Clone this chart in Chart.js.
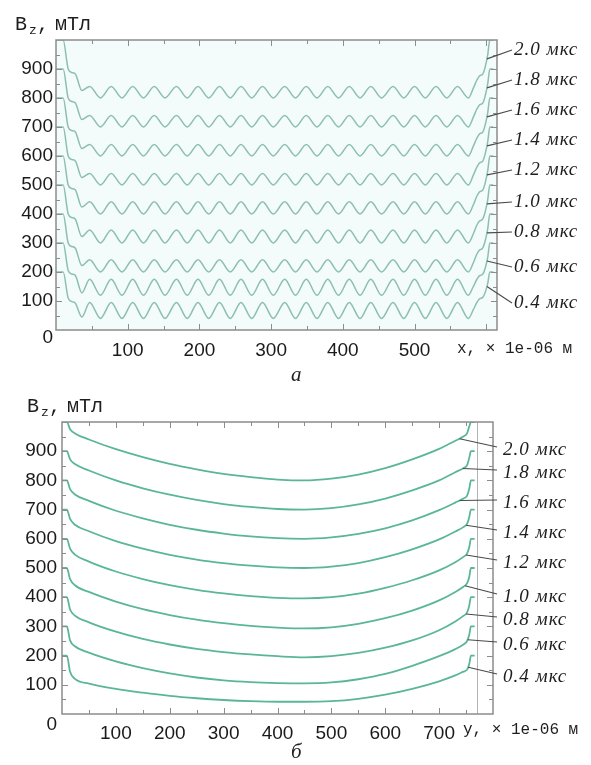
<!DOCTYPE html>
<html>
<head>
<meta charset="utf-8">
<script src="https://cdn.jsdelivr.net/npm/chart.js@4.4.0/dist/chart.umd.min.js"></script>
<style>
  html, body { margin: 0; padding: 0; background: #fff; }
  body { width: 591px; height: 765px; position: relative; overflow: hidden; }
  canvas { position: absolute; left: 0; }
  #chartX { top: 0; }
  #chartY { top: 380px; }
  .cap { position: absolute; font-family: 'Liberation Serif', serif; font-style: italic;
         font-size: 21px; line-height: 21px; color: #222; }
</style>
</head>
<body>
<canvas id="chartX" width="591" height="370"></canvas>
<canvas id="chartY" width="591" height="375"></canvas>
<div class="cap" style="left:291px; top:364px;">а</div>
<div class="cap" style="left:291px; top:741px;">б</div>
<script>
// Moments of time of the field snapshots, мкс (top to bottom)
const times = ['2.0', '1.8', '1.6', '1.4', '1.2', '1.0', '0.8', '0.6', '0.4'];

// Axis ticks
const yTickValues = [0, 100, 200, 300, 400, 500, 600, 700, 800, 900];
const xTickValuesA = [100, 200, 300, 400, 500];
const xTickValuesB = [100, 200, 300, 400, 500, 600, 700];

// (а) Bz along x, positions in 1e-06 м
const xPos = [0, 10, 17, 22, 27, 36,
  47, 62, 77, 92, 107, 122, 137, 152, 168, 183, 198, 213, 228, 243, 258, 273, 288, 303,
  319, 334, 349, 364, 379, 394, 409, 424, 439, 454, 470, 485, 500, 515, 530, 545, 560, 575,
  582, 587, 591, 595, 602, 605, 610];

// (а) Bz, мТл
const bzX20 = [1000, 1000, 900, 888, 883, 826,
  840, 800, 840, 800, 840, 800, 840, 800, 840, 800, 840, 800, 840, 800, 840, 800, 840, 800,
  840, 800, 840, 800, 840, 800, 840, 800, 840, 800, 840, 800, 840, 800, 840, 800, 840, 800,
  834, 862, 877, 882, 948, 1000, 1000];
const bzX18 = [900, 900, 800, 788, 783, 726,
  740, 700, 740, 700, 740, 700, 740, 700, 740, 700, 740, 700, 740, 700, 740, 700, 740, 700,
  740, 700, 740, 700, 740, 700, 740, 700, 740, 700, 740, 700, 740, 700, 740, 700, 740, 700,
  734, 762, 777, 782, 848, 900, 900];
const bzX16 = [800, 800, 700, 688, 683, 626,
  640, 600, 640, 600, 640, 600, 640, 600, 640, 600, 640, 600, 640, 600, 640, 600, 640, 600,
  640, 600, 640, 600, 640, 600, 640, 600, 640, 600, 640, 600, 640, 600, 640, 600, 640, 600,
  634, 662, 677, 682, 748, 800, 800];
const bzX14 = [700, 700, 600, 588, 583, 526,
  540, 500, 540, 500, 540, 500, 540, 500, 540, 500, 540, 500, 540, 500, 540, 500, 540, 500,
  540, 500, 540, 500, 540, 500, 540, 500, 540, 500, 540, 500, 540, 500, 540, 500, 540, 500,
  534, 562, 577, 582, 648, 700, 700];
const bzX12 = [600, 600, 500, 488, 483, 424,
  442, 400, 442, 400, 442, 400, 442, 400, 442, 400, 442, 400, 442, 400, 442, 400, 442, 400,
  442, 400, 442, 400, 442, 400, 442, 400, 442, 400, 442, 400, 442, 400, 442, 400, 442, 400,
  432, 462, 477, 482, 548, 600, 600];
const bzX10 = [500, 500, 400, 388, 382, 322,
  345, 300, 345, 300, 345, 300, 345, 300, 345, 300, 345, 300, 345, 300, 345, 300, 345, 300,
  345, 300, 345, 300, 345, 300, 345, 300, 345, 300, 345, 300, 345, 300, 345, 300, 345, 300,
  332, 362, 376, 382, 448, 500, 500];
const bzX08 = [400, 400, 300, 288, 282, 222,
  242, 200, 242, 200, 242, 200, 242, 200, 242, 200, 242, 200, 242, 200, 242, 200, 242, 200,
  242, 200, 242, 200, 242, 200, 242, 200, 242, 200, 242, 200, 242, 200, 242, 200, 242, 200,
  232, 262, 276, 282, 348, 400, 400];
const bzX06 = [300, 300, 205, 193, 188, 128,
  175, 120, 175, 120, 175, 120, 175, 120, 175, 120, 175, 120, 175, 120, 175, 120, 175, 120,
  175, 120, 175, 120, 175, 120, 175, 120, 175, 120, 175, 120, 175, 120, 175, 120, 175, 120,
  150, 175, 188, 192, 250, 300, 300];
const bzX04 = [200, 200, 110, 98, 92, 45,
  95, 40, 95, 40, 95, 40, 95, 40, 95, 40, 95, 40, 95, 40, 95, 40, 95, 40,
  95, 40, 95, 40, 95, 40, 95, 40, 95, 40, 95, 40, 95, 40, 95, 40, 95, 40,
  70, 95, 108, 112, 160, 200, 200];

// (б) Bz along y, positions in 1e-06 м
const yPos = [0, 9, 15, 24, 50, 100, 150, 200, 250, 300, 350, 400, 450, 500, 550, 600, 650, 700, 730, 745, 752, 756, 759, 766];

// (б) Bz, мТл
const bzY20 = [1000, 1000, 975, 961, 940, 907, 880, 857, 838, 822, 811, 803, 800, 806, 820, 842, 872, 908, 936, 950, 962, 985, 1000, 1000];
const bzY18 = [900, 900, 872, 856, 834, 800, 773, 751, 733, 719, 709, 702, 700, 705, 718, 738, 766, 800, 828, 842, 852, 878, 900, 900];
const bzY16 = [800, 800, 770, 752, 730, 696, 670, 648, 631, 618, 608, 602, 600, 605, 617, 636, 663, 698, 724, 738, 748, 772, 800, 800];
const bzY14 = [700, 700, 668, 648, 626, 592, 566, 545, 529, 517, 508, 502, 500, 505, 517, 537, 564, 598, 625, 640, 652, 675, 700, 700];
const bzY12 = [600, 600, 566, 546, 522, 488, 462, 441, 425, 413, 404, 398, 396, 400, 412, 432, 458, 492, 520, 538, 550, 572, 600, 600];
const bzY10 = [500, 500, 462, 441, 418, 385, 359, 339, 323, 311, 302, 296, 293, 297, 309, 328, 354, 389, 418, 436, 448, 470, 500, 500];
const bzY08 = [400, 400, 358, 337, 314, 282, 257, 238, 223, 212, 204, 198, 194, 198, 209, 227, 252, 287, 317, 336, 348, 372, 400, 400];
const bzY06 = [300, 300, 252, 232, 210, 180, 157, 139, 125, 115, 109, 106, 105, 108, 119, 137, 165, 198, 222, 238, 250, 272, 300, 300];
const bzY04 = [200, 200, 145, 120, 104, 86, 73, 62, 54, 48, 44, 42, 42, 44, 52, 66, 86, 112, 132, 145, 152, 172, 200, 200];

const seriesX = [bzX20, bzX18, bzX16, bzX14, bzX12, bzX10, bzX08, bzX06, bzX04];
const seriesY = [bzY20, bzY18, bzY16, bzY14, bzY12, bzY10, bzY08, bzY06, bzY04];

// Where each leader line meets its curve (positions along the axis, 1e-06 м)
const leaderAtA = [601, 601, 601, 601, 601, 601, 601, 601, 601];
const leaderAtB = [738, 744, 738, 750, 750, 748, 750, 753, 754];

function points(xs, ys) { return xs.map((x, i) => ({ x: x, y: ys[i] })); }

function linearAt(pts, x) {
  for (let i = 1; i < pts.length; i++) {
    if (pts[i].x >= x) {
      const p = pts[i - 1], q = pts[i];
      return p.y + (x - p.x) / (q.x - p.x) * (q.y - p.y);
    }
  }
  return pts[pts.length - 1].y;
}

// Plot background, boxed frame with inward ticks on all four sides
const framePlugin = {
  id: 'frame',
  beforeDatasetsDraw(chart, args, o) {
    if (!o.fill) return;
    const a = chart.chartArea, ctx = chart.ctx;
    ctx.save();
    ctx.fillStyle = o.fill;
    ctx.fillRect(a.left, a.top, a.right - a.left, a.bottom - a.top);
    ctx.restore();
  },
  afterDatasetsDraw(chart, args, o) {
    const a = chart.chartArea, ctx = chart.ctx;
    const xs = chart.scales.x, ys = chart.scales.y;
    ctx.save();
    ctx.strokeStyle = o.color;
    ctx.lineWidth = 1;
    const seg = (x1, y1, x2, y2) => { ctx.beginPath(); ctx.moveTo(x1, y1); ctx.lineTo(x2, y2); ctx.stroke(); };
    if (o.vline !== undefined) {
      ctx.save();
      ctx.strokeStyle = o.vlineColor;
      const px = Math.round(xs.getPixelForValue(o.vline)) + 0.5;
      seg(px, a.top, px, a.bottom);
      ctx.restore();
    }
    for (let v = o.step; v < xs.max; v += o.step) {
      const px = Math.round(xs.getPixelForValue(v)) + 0.5;
      const len = v % 100 === 0 ? o.major : o.minor;
      seg(px, a.bottom, px, a.bottom - len);
      seg(px, a.top, px, a.top + len);
    }
    for (let v = o.step; v < ys.max; v += o.step) {
      const py = Math.round(ys.getPixelForValue(v)) + 0.5;
      const len = v % 100 === 0 ? o.major : o.minor;
      seg(a.left, py, a.left + len, py);
      seg(a.right, py, a.right - len, py);
    }
    ctx.lineWidth = o.width;
    ctx.strokeRect(a.left, a.top, a.right - a.left, a.bottom - a.top);
    ctx.restore();
  }
};

// Curve captions with leader lines, axis names
const notesPlugin = {
  id: 'notes',
  afterDatasetsDraw(chart, args, o) {
    const ctx = chart.ctx;
    const xs = chart.scales.x, ys = chart.scales.y;
    ctx.save();
    // time captions
    chart.data.datasets.forEach((ds, i) => {
      const px = xs.getPixelForValue(o.leaderAt[i]);
      const el = chart.getDatasetMeta(i).dataset;
      let hit = el && el.interpolate ? el.interpolate({ x: px }, 'x') : null;
      const py = hit ? hit.y : ys.getPixelForValue(linearAt(ds.data, o.leaderAt[i]));
      const ly = o.labelY[i];
      ctx.strokeStyle = o.leaderColor;
      ctx.lineWidth = 1.1;
      ctx.beginPath();
      ctx.moveTo(px, py);
      ctx.lineTo(o.leaderEndX, ly + o.leaderDy);
      ctx.stroke();
      ctx.fillStyle = o.textColor;
      ctx.font = o.labelFont;
      ctx.letterSpacing = '1px';
      ctx.textAlign = 'left';
      ctx.textBaseline = 'middle';
      ctx.fillText(ds.label, o.labelX, ly);
    });
    ctx.letterSpacing = '0px';
    // quantity name of the vertical axis: B with subscript z
    ctx.fillStyle = o.textColor;
    ctx.textBaseline = 'alphabetic';
    ctx.font = "20px 'Liberation Mono'";
    ctx.fillText('B', o.yTitle[0], o.yTitle[1]);
    ctx.font = "13px 'Liberation Mono'";
    ctx.fillText('z', o.yTitle[0] + 14, o.yTitle[1] + 4);
    ctx.font = "20px 'Liberation Mono'";
    ctx.fillText(',', o.yTitle[0] + 22, o.yTitle[1]);
    ctx.fillText('мТл', o.yTitle[0] + 40, o.yTitle[1]);
    // quantity name of the horizontal axis
    ctx.font = "16px 'Liberation Mono'";
    ctx.textBaseline = 'middle';
    ctx.fillText(o.xTitle, o.xTitlePos[0], o.xTitlePos[1]);
    ctx.restore();
  }
};

function makeChart(canvasId, xs, ysList, color, lineWidth, cfg) {
  const datasets = ysList.map((ys, i) => ({
    label: times[i] + ' мкс',
    data: points(xs, ys),
    borderColor: color,
    borderWidth: lineWidth,
    pointRadius: 0,
    fill: false,
    cubicInterpolationMode: 'monotone'
  }));
  const tickFont = (zeroLh) => (c) => (c.tick && c.tick.value === 0)
    ? { family: "'Liberation Sans'", size: 19, lineHeight: zeroLh }
    : { family: "'Liberation Sans'", size: 19 };
  return new Chart(document.getElementById(canvasId), {
    type: 'line',
    data: { datasets: datasets },
    options: {
      responsive: false,
      animation: false,
      events: [],
      layout: { padding: cfg.padding },
      plugins: {
        legend: { display: false },
        tooltip: { enabled: false },
        frame: cfg.frame,
        notes: cfg.notes
      },
      scales: {
        x: {
          type: 'linear',
          min: cfg.xMin, max: cfg.xMax,
          grid: { display: false, drawTicks: false },
          border: { display: false },
          afterBuildTicks: (s) => { s.ticks = cfg.xTicks.map(v => ({ value: v })); },
          afterFit: (s) => { s.height = cfg.xHeight; },
          ticks: {
            maxRotation: 0, autoSkip: false, padding: cfg.xPad, color: '#1a1a1a',
            font: { family: "'Liberation Sans'", size: 19 },
            callback: (v) => String(v)
          }
        },
        y: {
          type: 'linear',
          min: 0, max: 1000,
          grid: { display: false, drawTicks: false },
          border: { display: false },
          afterBuildTicks: (s) => { s.ticks = yTickValues.map(v => ({ value: v })); },
          afterFit: (s) => { s.width = cfg.yWidth; },
          ticks: {
            autoSkip: false, padding: cfg.yPad, color: '#1a1a1a',
            font: tickFont(cfg.zeroLh),
            callback: (v) => v === 0 ? ['', '0'] : String(v)
          }
        }
      }
    },
    plugins: [framePlugin, notesPlugin]
  });
}

// (а) distribution along x
makeChart('chartX', xPos, seriesX, '#8cbfb2', 1.5, {
  xMin: 0, xMax: 615, xTicks: xTickValuesA,
  padding: { left: 0, top: 40, right: 94, bottom: 0 },
  yWidth: 56, xHeight: 40, xPad: 9, yPad: 3, zeroLh: 0.84,
  frame: { color: '#8c8c8c', width: 1.5, step: 50, major: 6, minor: 4, fill: '#f4fbfb' },
  notes: {
    leaderAt: leaderAtA,
    labelY: [50, 80, 110, 140, 170, 202, 232, 267, 303],
    leaderEndX: 512, leaderDy: 0, labelX: 514,
    leaderColor: '#4a4a4a', textColor: '#1e1e1e',
    labelFont: "italic 19px 'Liberation Serif'",
    yTitle: [15, 30],
    xTitle: 'x, × 1e-06 м', xTitlePos: [457, 349]
  }
});

// (б) distribution along y
makeChart('chartY', yPos, seriesY, '#5ab795', 1.8, {
  xMin: 0, xMax: 800, xTicks: xTickValuesB,
  padding: { left: 0, top: 42, right: 98, bottom: 0 },
  yWidth: 62, xHeight: 41, xPad: 8, yPad: 5, zeroLh: 1.16,
  frame: { color: '#8c8c8c', width: 1.5, step: 50, major: 6, minor: 4, vline: 771, vlineColor: '#b4b4b4' },
  notes: {
    leaderAt: leaderAtB,
    labelY: [70, 93, 123, 153, 183, 217, 240, 265, 297],
    leaderEndX: 497, leaderDy: -3, labelX: 503,
    leaderColor: '#4a4a4a', textColor: '#1e1e1e',
    labelFont: "italic 19px 'Liberation Serif'",
    yTitle: [27, 32],
    xTitle: 'y, × 1e-06 м', xTitlePos: [463, 350]
  }
});
</script>
</body>
</html>
